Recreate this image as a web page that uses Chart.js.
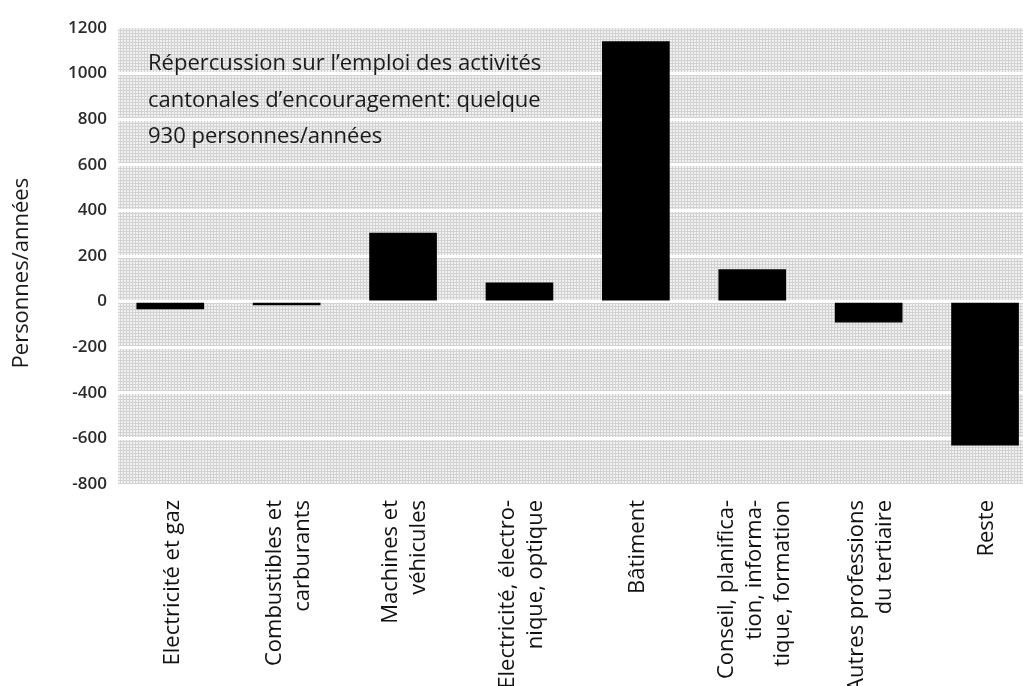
<!DOCTYPE html>
<html>
<head>
<meta charset="utf-8">
<script src="https://cdn.jsdelivr.net/npm/chart.js@4"></script>
<style>
  html, body { margin: 0; padding: 0; background: #fff; overflow: hidden; }
  #wrap { width: 1023px; height: 686px; }
</style>
</head>
<body>
<div id="wrap"><canvas id="chart"></canvas></div>
<script>
// categories (multi-line labels, as printed under the bars)
const categories = [
  ['Electricité et gaz'],
  ['Combustibles et', 'carburants'],
  ['Machines et', 'véhicules'],
  ['Electricité, électro-', 'nique, optique'],
  ['Bâtiment'],
  ['Conseil, planifica-', 'tion, informa-', 'tique, formation'],
  ['Autres professions', 'du tertiaire'],
  ['Reste']
];
// persons/years per branch
const values = [-32, -15, 300, 82, 1140, 140, -90, -630];

const yMin = -800;
const yMax = 1200;
const yStep = 200;
const yTitle = 'Personnes/années';
const noteLines = [
  'Répercussion sur l’emploi des activités',
  'cantonales d’encouragement: quelque',
  '930 personnes/années'
];

const FONT = '"Open Sans", "Noto Sans", sans-serif';
const LINE_PX = 28;

function makePattern(ctx) {
  const c = document.createElement('canvas');
  c.width = 3;
  c.height = 3;
  const p = c.getContext('2d');
  p.fillStyle = '#f0f0f0';
  p.fillRect(0, 0, 3, 3);
  p.fillStyle = '#d2d2d2';
  p.fillRect(0, 0, 3, 1);
  p.fillRect(0, 0, 1, 3);
  return ctx.createPattern(c, 'repeat');
}

const backdrop = {
  id: 'backdrop',
  beforeDraw(chart) {
    const { ctx, chartArea: a } = chart;
    ctx.save();
    ctx.fillStyle = makePattern(ctx);
    ctx.fillRect(a.left, a.top, a.right - a.left, a.bottom - a.top);
    ctx.restore();
  },
  afterDatasetsDraw(chart) {
    const { ctx, chartArea: a } = chart;
    ctx.save();
    ctx.font = '22px ' + FONT;
    ctx.fillStyle = '#1a1a1a';
    ctx.textBaseline = 'alphabetic';
    noteLines.forEach((line, i) => {
      ctx.fillText(line, a.left + 30, a.top + 42 + i * 36.5);
    });
    ctx.restore();
  }
};

new Chart(document.getElementById('chart'), {
  type: 'bar',
  data: {
    datasets: [{
      data: values.map((v, i) => ({ x: i, y: v })),
      backgroundColor: '#000',
      borderWidth: 0,
      barThickness: 67
    }]
  },
  options: {
    responsive: true,
    maintainAspectRatio: false,
    animation: false,
    devicePixelRatio: 1,
    layout: { padding: { top: 28, left: 0, right: 0, bottom: 0 } },
    plugins: {
      legend: { display: false },
      tooltip: { enabled: false }
    },
    scales: {
      x: {
        type: 'linear',
        offset: false,
        min: -0.449,
        max: 7.326,
        grid: { display: false, drawTicks: false, offset: false },
        border: { display: false },
        ticks: {
          autoSkip: false,
          minRotation: 90,
          maxRotation: 90,
          padding: 16,
          color: '#111',
          font: { family: FONT, size: 22, lineHeight: LINE_PX / 22 },
          callback: (v, i) => categories[i]
        },
        afterBuildTicks(axis) {
          // one tick per bar, nudged so stacked label lines sit centred under it
          const px = axis.width / (axis.max - axis.min);
          axis.ticks = categories.map((lines, i) => ({
            value: i + (2 - (lines.length - 1) / 2 * LINE_PX) / px
          }));
        },
        afterFit(axis) {
          axis.height = 202;
          axis.paddingLeft = 0;
          axis.paddingRight = 0;
        }
      },
      y: {
        min: yMin,
        max: yMax,
        grid: {
          drawTicks: false,
          lineWidth: 3,
          color: (c) => (c.tick && (c.tick.value === yMin || c.tick.value === yMax)) ? 'rgba(0,0,0,0)' : '#ffffff'
        },
        border: { display: false },
        ticks: {
          stepSize: yStep,
          padding: 11,
          color: '#2a2a2a',
          font: { family: FONT, size: 17, weight: '600' },
          callback: (v) => String(v)
        },
        title: {
          display: true,
          text: yTitle + '\u00a0\u00a0\u00a0\u00a0\u00a0\u00a0',
          color: '#1a1a1a',
          font: { family: FONT, size: 22 },
          padding: { top: 9, bottom: 0 }
        },
        afterFit(axis) {
          axis.width = 118;
          axis.paddingTop = 0;
          axis.paddingBottom = 0;
        }
      }
    }
  },
  plugins: [backdrop]
});
</script>
</body>
</html>
